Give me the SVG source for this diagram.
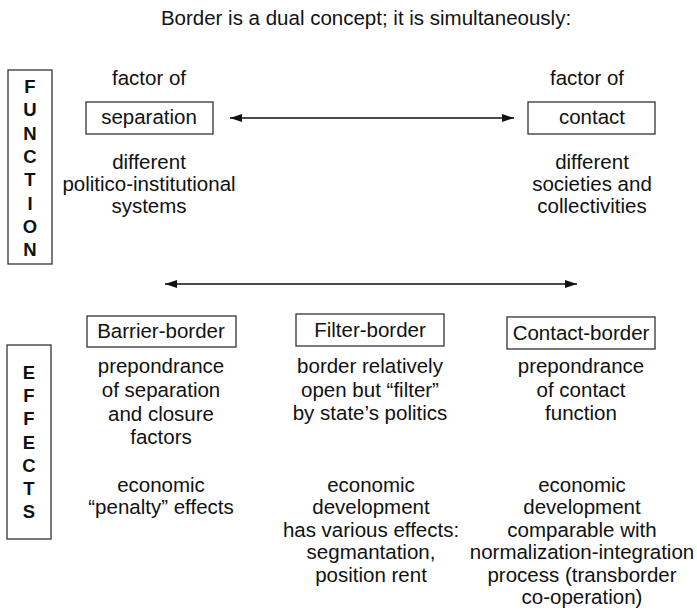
<svg xmlns="http://www.w3.org/2000/svg" width="697" height="610" viewBox="0 0 697 610">
<style>
text{font-family:"Liberation Sans",Arial,sans-serif;font-size:20.5px;fill:#111;text-anchor:middle}
.v{font-weight:bold;font-size:18.5px}
.box{fill:#fff;stroke:#333;stroke-width:1.3}
.con{stroke:#111;stroke-width:1.3;fill:none}
</style>
<defs>
<marker id="ah" viewBox="0 0 12 8" refX="12" refY="4" markerWidth="12" markerHeight="8" markerUnits="userSpaceOnUse" orient="auto-start-reverse">
<path d="M0,0 L12,4 L0,8 z" fill="#111"/>
</marker>
</defs>
<text id="title" x="366" y="25">Border is a dual concept; it is simultaneously:</text>
<g id="function">
<rect class="box" x="8" y="70" width="44" height="194"/>
<text class="v" x="30" y="93">F</text>
<text class="v" x="30" y="116.3">U</text>
<text class="v" x="30" y="139.6">N</text>
<text class="v" x="30" y="162.9">C</text>
<text class="v" x="30" y="186.2">T</text>
<text class="v" x="30" y="209.5">I</text>
<text class="v" x="30" y="232.8">O</text>
<text class="v" x="30" y="256">N</text>
</g>
<g id="separation">
<text x="149" y="85">factor of</text>
<rect class="box" x="86" y="102" width="127" height="32"/>
<text x="149" y="124">separation</text>
<text x="149" y="169">different</text>
<text x="149" y="191">politico-institutional</text>
<text x="149" y="213">systems</text>
</g>
<g id="contact">
<text x="587" y="85">factor of</text>
<rect class="box" x="528" y="102" width="127" height="32"/>
<text x="592" y="124">contact</text>
<text x="592" y="169">different</text>
<text x="592" y="191">societies and</text>
<text x="592" y="213">collectivities</text>
</g>
<g id="effects">
<rect class="box" x="7" y="345" width="44" height="194"/>
<text class="v" x="29" y="379">E</text>
<text class="v" x="29" y="402.2">F</text>
<text class="v" x="29" y="425.4">F</text>
<text class="v" x="29" y="448.6">E</text>
<text class="v" x="29" y="471.8">C</text>
<text class="v" x="29" y="495">T</text>
<text class="v" x="29" y="518">S</text>
</g>
<g id="barrier-border">
<rect class="box" x="87" y="316" width="149" height="31"/>
<text x="161" y="338">Barrier-border</text>
<text x="161" y="373">prepondrance</text>
<text x="161" y="397">of separation</text>
<text x="161" y="421">and closure</text>
<text x="161" y="444">factors</text>
<text x="161" y="492">economic</text>
<text x="161" y="514">“penalty” effects</text>
</g>
<g id="filter-border">
<rect class="box" x="296" y="314" width="148" height="32"/>
<text x="370" y="337">Filter-border</text>
<text x="370" y="373">border relatively</text>
<text x="370" y="397">open but “filter”</text>
<text x="370" y="420">by state’s politics</text>
<text x="371" y="492">economic</text>
<text x="371" y="514">development</text>
<text x="371" y="537">has various effects:</text>
<text x="371" y="559">segmantation,</text>
<text x="371" y="582">position rent</text>
</g>
<g id="contact-border">
<rect class="box" x="507" y="317" width="148" height="32"/>
<text x="581" y="340">Contact-border</text>
<text x="581" y="373">prepondrance</text>
<text x="581" y="397">of contact</text>
<text x="581" y="420">function</text>
<text x="582" y="492">economic</text>
<text x="582" y="514">development</text>
<text x="582" y="537">comparable with</text>
<text x="582" y="559">normalization-integration</text>
<text x="582" y="582">process (transborder</text>
<text x="582" y="604">co-operation)</text>
</g>
<g id="connectors">
<line class="con" x1="230" y1="118" x2="514" y2="118" marker-start="url(#ah)" marker-end="url(#ah)"/>
<line class="con" x1="165" y1="284" x2="577" y2="284" marker-start="url(#ah)" marker-end="url(#ah)"/>
</g>
</svg>
